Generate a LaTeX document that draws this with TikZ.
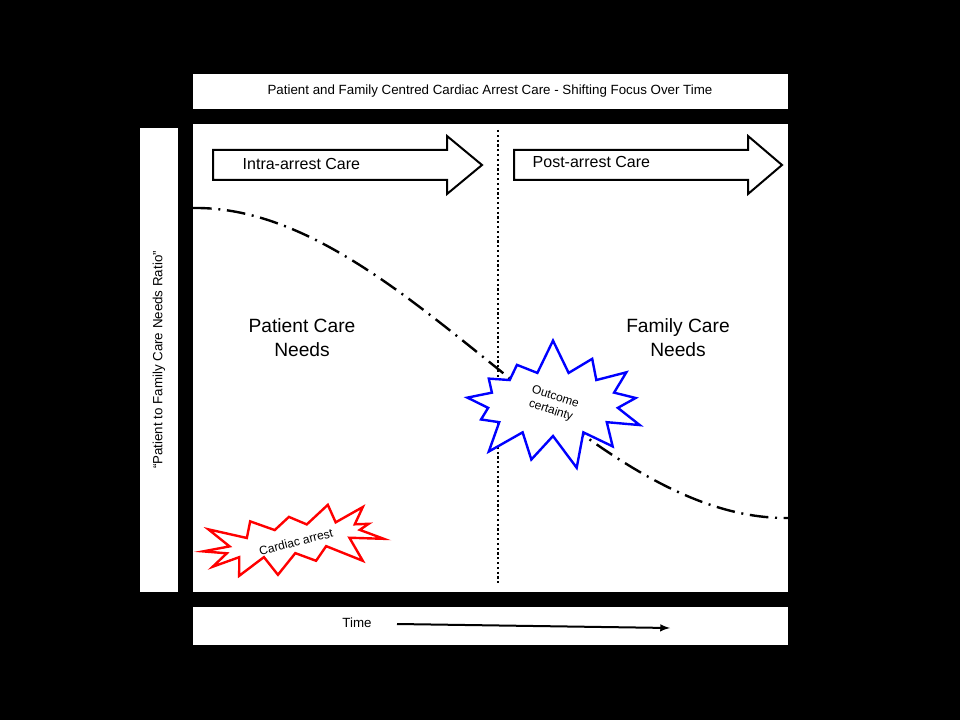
\documentclass[tikz,border=0pt]{standalone}
\usepackage{fontspec}
\setmainfont{Liberation Sans}
\usetikzlibrary{shapes.symbols}
\begin{document}
\begin{tikzpicture}[x=0.75pt,y=-0.75pt,
    panel/.style={fill=white, draw=none},
    phase/.style={draw=black, line width=1.5pt, fill=white},
    burst/.style={starburst, fill=white, line width=1.8pt, starburst points=13}]

    % background and white panels
    \fill[black] (0,0) rectangle (960,720);
    \path[use as bounding box] (0,0) rectangle (960,720);
    \fill[panel] (193,74) rectangle (788,109);
    \fill[panel] (193,124) rectangle (788,592);
    \fill[panel] (140,128) rectangle (178,592);
    \fill[panel] (193,607) rectangle (788,645);

    \node (title) at (490,91) {Patient and Family Centred Cardiac Arrest Care - Shifting Focus Over Time};
    \node[rotate=90] (ratio) at (159,360) {“Patient to Family Care Needs Ratio”};

    % phases
    \draw[phase] (213,150) -- (447,150) -- (447,136) -- (482,165) -- (447,194) -- (447,180) -- (213,180) -- cycle;
    \draw[phase] (514,150) -- (748,150) -- (748,136) -- (782,165) -- (748,194) -- (748,180) -- (514,180) -- cycle;
    \node[anchor=west, font=\large] (intra) at (238,164) {Intra-arrest Care};
    \node[anchor=west, font=\large] (post) at (528,162) {Post-arrest Care};

    \draw[line width=1.6pt, dotted] (498,130) -- (498,585);

    % ratio curve
    \draw[line width=1.8pt, dash pattern=on 14pt off 5pt on 1.5pt off 5pt]
      (193,208) .. controls (400,205) and (580,520) .. (788,518);

    \node[align=center, font=\Large] (patient) at (302,338) {Patient Care\\Needs};
    \node[align=center, font=\Large] (family) at (678,338) {Family Care\\Needs};

    \node[burst, draw=blue, minimum width=150pt, minimum height=100pt, random starburst=7,
      starburst point height=26pt] (outcome) at (553,404) {};
    \node[align=center, rotate=-18, font=\small] (outlbl) at (553,404) {Outcome\\certainty};
    \node[burst, draw=red, minimum width=150pt, minimum height=68pt, random starburst=3,
      starburst point height=24pt, rotate=10] (arrest) at (293,540) {};
    \node[rotate=14, font=\small] (arrlbl) at (296,542) {Cardiac arrest};

    % time axis
    \node (time) at (357,623) {Time};
    \coordinate (tstart) at (397,624);
    \coordinate (tend) at (670,628);
    \draw[line width=1.5pt, -latex] (tstart) -- (tend);
\end{tikzpicture}
\end{document}
